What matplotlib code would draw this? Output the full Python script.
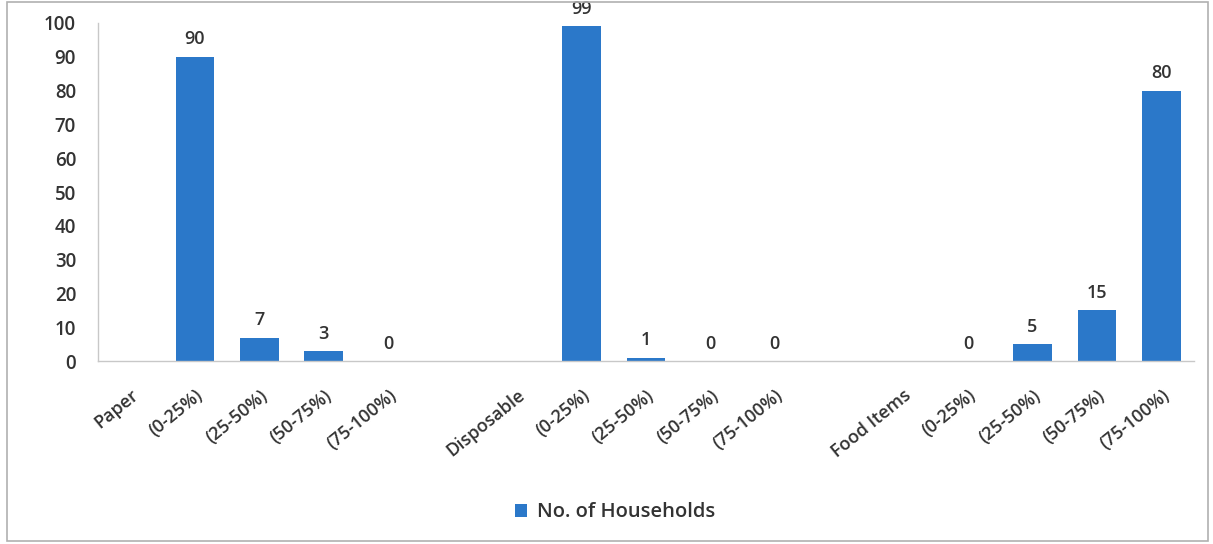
import matplotlib
matplotlib.use("Agg")
import matplotlib.pyplot as plt
from matplotlib.patches import Rectangle
import numpy as np

categories = ["Paper", "(0-25%)", "(25-50%)", "(50-75%)", "(75-100%)", "",
              "Disposable", "(0-25%)", "(25-50%)", "(50-75%)", "(75-100%)", "",
              "Food Items", "(0-25%)", "(25-50%)", "(50-75%)", "(75-100%)"]
values = [None, 90, 7, 3, 0, None,
          None, 99, 1, 0, 0, None,
          None, 0, 5, 15, 80]
series_name = "No. of Households"
yticks = [0, 10, 20, 30, 40, 50, 60, 70, 80, 90, 100]

plt.rcParams['font.family'] = ['Open Sans', 'DejaVu Sans']
text_color = "#333333"
bar_color = "#2b78c9"
fw = "semibold"

fig = plt.figure(figsize=(12.13, 5.44), dpi=100)
ax = fig.add_axes([0.081, 0.336, 0.903, 0.622])

x = np.arange(len(categories))
heights = [np.nan if v is None else v for v in values]
bars = ax.bar(x, heights, width=0.6, color=bar_color, label=series_name, zorder=2)

for xi, v in zip(x, values):
    if v is None:
        continue
    ax.annotate(str(v), xy=(xi, v), xytext=(0, 6), textcoords="offset points",
                ha="center", va="bottom", fontsize=13, color=text_color,
                fontweight=fw, annotation_clip=False)

ax.set_xlim(-0.5, len(categories) - 0.5)
ax.set_ylim(0, 100)
ax.set_yticks(yticks)
ax.set_yticklabels([str(t) for t in yticks], fontsize=13.5, color=text_color,
                   fontweight=fw)
ax.set_xticks(x)
ax.set_xticklabels(categories, rotation=39, ha="right", rotation_mode="anchor",
                   fontsize=13, color=text_color, fontweight=fw)
ax.tick_params(axis="y", length=0, pad=16)
ax.tick_params(axis="x", length=0, pad=18)

for s in ["top", "right"]:
    ax.spines[s].set_visible(False)
for s in ["left", "bottom"]:
    ax.spines[s].set_color("#c8c8c8")
    ax.spines[s].set_linewidth(1.0)

leg = fig.legend(handles=[bars], labels=[series_name], loc="center",
                 bbox_to_anchor=(0.507, 0.058), frameon=False,
                 handlelength=0.6, handleheight=0.6, handletextpad=0.5,
                 prop={'weight': fw, 'size': 14.5})
for t in leg.get_texts():
    t.set_color(text_color)

fig.patches.append(Rectangle((0.006, 0.006), 0.99, 0.99, transform=fig.transFigure,
                             fill=False, edgecolor="#b0b0b0", linewidth=1.2))

fig.savefig("out.png", dpi=100)
